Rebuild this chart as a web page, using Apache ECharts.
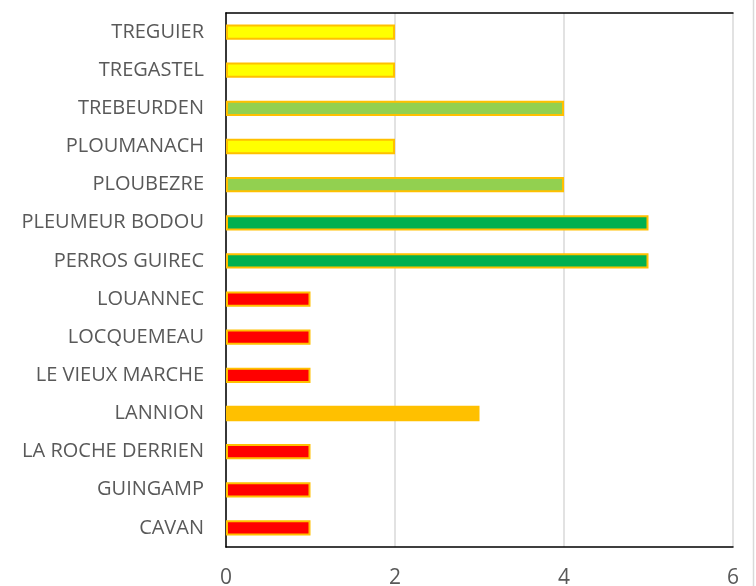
<!DOCTYPE html>
<html><head><meta charset="utf-8">
<script src="https://cdn.jsdelivr.net/npm/echarts@6/dist/echarts.min.js"></script>
<style>html,body{margin:0;padding:0;background:#fff}#c{width:756px;height:586px}</style>
</head><body><div id="c"></div>
<script>
const categories = ["CAVAN","GUINGAMP","LA ROCHE DERRIEN","LANNION","LE VIEUX MARCHE","LOCQUEMEAU","LOUANNEC","PERROS GUIREC","PLEUMEUR BODOU","PLOUBEZRE","PLOUMANACH","TREBEURDEN","TREGASTEL","TREGUIER"];
const values = [1,1,1,3,1,1,1,5,5,4,2,4,2,2];
const levelColors = {1:"#FF0000",2:"#FFFF00",3:"#FFC000",4:"#92D050",5:"#00B050"};
const xTicks = [0,2,4,6];

const chart = echarts.init(document.getElementById('c'));
chart.setOption({
  animation:false,
  grid:{left:226,right:23,top:13,bottom:39,containLabel:false,outerBoundsMode:'none'},
  xAxis:[{type:'value',min:0,max:6,interval:2,position:'bottom',
    axisLine:{show:true,onZero:false,lineStyle:{color:'#000',width:1.5}},
    axisTick:{show:false},
    splitLine:{show:true,lineStyle:{color:'#d9d9d9',width:1.5}},
    axisLabel:{color:'#595959',fontSize:21,fontFamily:'Open Sans',margin:21,
      formatter:v=>xTicks.includes(v)?String(v):''}},
    {type:'value',min:0,max:6,position:'top',axisLine:{show:true,onZero:false,lineStyle:{color:'#000',width:1.5}},
     axisTick:{show:false},axisLabel:{show:false},splitLine:{show:false}}],
  yAxis:[{type:'category',data:categories,
    axisLine:{show:true,lineStyle:{color:'#d9d9d9',width:1.5}},
    axisTick:{show:false},
    axisLabel:{color:'#595959',fontSize:20,fontFamily:'Open Sans',margin:22}},
    {type:'category',data:categories,position:'right',
     axisLine:{show:true,lineStyle:{color:'#000',width:1.5}},axisTick:{show:false},axisLabel:{show:false}}],
  series:[{type:'bar',barWidth:'40%',xAxisIndex:0,yAxisIndex:0,
    data:values.map(v=>({value:v,itemStyle:{color:levelColors[v]}})),
    itemStyle:{borderColor:'#FFC000',borderWidth:2}}],
  graphic:[{type:'line',shape:{x1:753.5,y1:0,x2:753.5,y2:586},style:{stroke:'#d9d9d9',lineWidth:1.5}}]
});
</script></body></html>
